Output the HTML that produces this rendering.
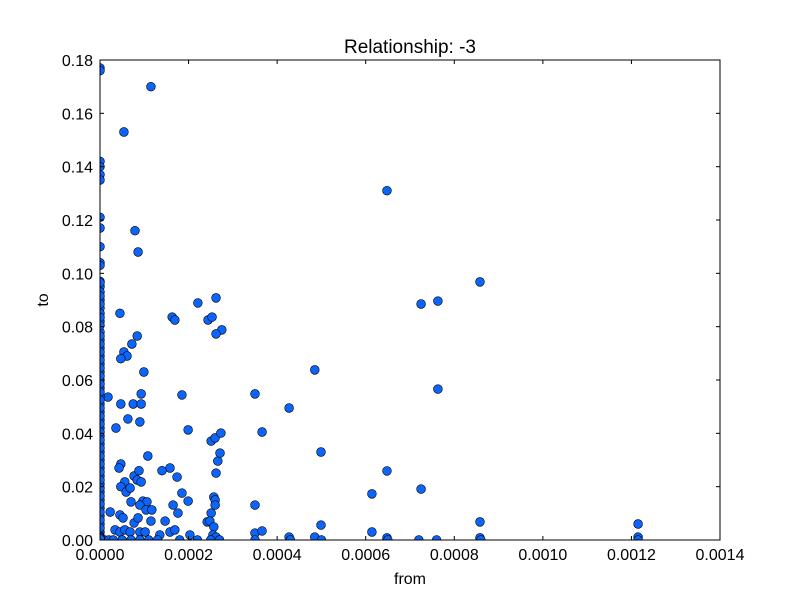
<!DOCTYPE html>
<html><head><meta charset="utf-8"><style>
body{margin:0;background:#fff;}
svg text{font-family:"Liberation Sans",sans-serif;fill:#000;}
</style></head><body>
<svg id="chart" width="800" height="600" xmlns="http://www.w3.org/2000/svg">
<rect width="800" height="600" fill="#fff"/>
<defs><clipPath id="pc"><rect x="100" y="60" width="620" height="480"/></clipPath></defs>
<text x="410" y="53" font-size="19" text-anchor="middle">Relationship: -3</text>
<text x="410" y="584" font-size="16" text-anchor="middle">from</text>
<text x="48" y="300" font-size="16" text-anchor="middle" transform="rotate(-90 48 300)">to</text>
<g id="marks" clip-path="url(#pc)"></g>
<g id="axes"></g>
</svg>
<script>
const xTicks=[0,0.0002,0.0004,0.0006,0.0008,0.0010,0.0012,0.0014];
const xTickLabels=["0.0000","0.0002","0.0004","0.0006","0.0008","0.0010","0.0012","0.0014"];
const yTicks=[0,0.02,0.04,0.06,0.08,0.10,0.12,0.14,0.16,0.18];
const yTickLabels=["0.00","0.02","0.04","0.06","0.08","0.10","0.12","0.14","0.16","0.18"];
const fromVals=[1.15e-4,0.54e-4,0.79e-4,0.86e-4,0.45e-4,0.84e-4,0.72e-4,0.54e-4,0.61e-4,0.47e-4,0.99e-4,0.47e-4,0.75e-4,0.93e-4,0.93e-4,0.18e-4,0.63e-4,0.90e-4,0.36e-4,1.08e-4,0.47e-4,0.43e-4,0.77e-4,0.88e-4,0.84e-4,0.93e-4,0.56e-4,0.47e-4,0.59e-4,0.68e-4,0.70e-4,0.97e-4,1.06e-4,0.90e-4,1.04e-4,1.17e-4,0.45e-4,0.52e-4,0.77e-4,0.86e-4,1.15e-4,0.23e-4,0.34e-4,0.45e-4,0.56e-4,0.68e-4,0.90e-4,1.02e-4,1.63e-4,1.69e-4,2.21e-4,2.62e-4,2.44e-4,2.53e-4,2.75e-4,2.62e-4,1.85e-4,1.99e-4,2.51e-4,2.60e-4,2.73e-4,2.66e-4,2.62e-4,2.71e-4,1.58e-4,1.74e-4,1.40e-4,1.85e-4,1.99e-4,1.65e-4,1.76e-4,2.57e-4,2.60e-4,2.60e-4,2.51e-4,1.47e-4,1.58e-4,2.42e-4,2.48e-4,2.57e-4,2.55e-4,2.62e-4,1.35e-4,1.69e-4,2.03e-4,3.50e-4,3.66e-4,3.50e-4,3.50e-4,3.66e-4,4.27e-4,4.27e-4,4.85e-4,4.99e-4,4.99e-4,4.85e-4,6.14e-4,6.14e-4,6.48e-4,6.48e-4,6.48e-4,7.25e-4,7.25e-4,7.63e-4,7.63e-4,8.58e-4,8.58e-4,8.58e-4,12.15e-4,12.15e-4,
0.1e-4,0.2e-4,0.3e-4,0.5e-4,0.7e-4,0.9e-4,1.1e-4,1.3e-4,1.8e-4,2.2e-4,2.5e-4,2.7e-4,3.5e-4,4.3e-4,5.0e-4,6.5e-4,7.2e-4,7.6e-4,8.6e-4,12.15e-4,
0,0,0,0,0,0,0,0,0,0,0,0,0,0,0,0,0,0,0,0,0,0,0,0,0,0,0,0,0,0,0,0,0,0,0,0,0,0,0,0,0,0,0,0,0,
0,0,0,0,0,0,0,0,0,0,0,0,0,0,0,0,0,0,0,0,0,0,0,0,0,0,0,0,0,0,0,0,0,0];
const toVals=[0.170,0.153,0.116,0.108,0.085,0.0765,0.0735,0.0705,0.069,0.068,0.063,0.051,0.051,0.051,0.0548,0.0536,0.0454,0.0443,0.042,0.0315,0.0285,0.027,0.024,0.026,0.0225,0.0218,0.0218,0.020,0.018,0.0195,0.0143,0.0146,0.0143,0.0131,0.0113,0.0113,0.0094,0.0083,0.0064,0.0083,0.0071,0.0105,0.0038,0.003,0.0038,0.003,0.003,0.003,0.0836,0.0825,0.0889,0.0908,0.0825,0.0836,0.0788,0.0773,0.0544,0.0413,0.0371,0.0383,0.0401,0.0296,0.0251,0.0326,0.027,0.0236,0.026,0.0176,0.0146,0.0131,0.0101,0.0161,0.015,0.0131,0.0101,0.0071,0.003,0.0068,0.0071,0.0049,0.0019,0.0011,0.0019,0.0038,0.0019,0.0548,0.0405,0.0131,0.0026,0.0034,0.0495,0.0011,0.0638,0.033,0.0056,0.0011,0.0173,0.003,0.131,0.0259,0.0008,0.0885,0.0191,0.0896,0.0566,0.0968,0.0068,0.0008,0.006,0.0011,
0,0,0,0,0,0,0,0,0,0,0,0,0,0,0,0,0,0,0,0,
0.177,0.176,0.142,0.140,0.137,0.135,0.121,0.117,0.110,0.104,0.103,0.097,0.095,0.093,0.090,0.087,0.085,0.082,0.078,0.075,0.072,0.069,0.066,0.063,0.060,0.057,0.054,0.051,0.048,0.045,0.042,0.039,0.036,0.033,0.030,0.027,0.024,0.021,0.018,0.015,0.012,0.009,0.006,0.003,0,
0.0965,0.0915,0.0885,0.0835,0.0805,0.0765,0.0735,0.0705,0.0675,0.0645,0.0615,0.0585,0.0555,0.0525,0.0495,0.0465,0.0435,0.0405,0.0375,0.0345,0.0315,0.0285,0.0255,0.0225,0.0195,0.0165,0.0135,0.0105,0.0075,0.0045,0.0015,0.0012,0.0008,0.0004];
const NS="http://www.w3.org/2000/svg";
const X0=100,X1=720,Y0=540,Y1=60,XMAX=0.0014,YMAX=0.18;
const sx=v=>X0+v/XMAX*(X1-X0);
const sy=v=>Y0-v/YMAX*(Y0-Y1);
const marks=document.getElementById('marks');
for(let i=0;i<fromVals.length;i++){
  const c=document.createElementNS(NS,'circle');
  c.setAttribute('cx',sx(fromVals[i]));c.setAttribute('cy',sy(toVals[i]));
  c.setAttribute('r',4.4);c.setAttribute('fill','#0b65fa');c.setAttribute('stroke','#000');c.setAttribute('stroke-width','0.6');
  
  
  marks.appendChild(c);
}
const axes=document.getElementById('axes');
function el(tag,attrs,txt){const e=document.createElementNS(NS,tag);for(const k in attrs)e.setAttribute(k,attrs[k]);if(txt!==undefined)e.textContent=txt;axes.appendChild(e);return e;}
const frame=el('rect',{x:X0,y:Y1,width:X1-X0,height:Y0-Y1,fill:'none',stroke:'#000','stroke-width':1});


xTicks.forEach((t,i)=>{
  const x=sx(t);
  el('line',{x1:x,y1:Y0,x2:x,y2:Y0-4,stroke:'#000'});
  el('line',{x1:x,y1:Y1,x2:x,y2:Y1+4,stroke:'#000'});
  const tx=el('text',{x:x,y:Y0+20,'font-size':16,'text-anchor':'middle'},xTickLabels[i]);
  
  
});
yTicks.forEach((t,i)=>{
  const y=sy(t);
  el('line',{x1:X0,y1:y,x2:X0+4,y2:y,stroke:'#000'});
  el('line',{x1:X1,y1:y,x2:X1-4,y2:y,stroke:'#000'});
  const tx=el('text',{x:X0-7,y:y+6,'font-size':16,'text-anchor':'end'},yTickLabels[i]);
  
  
});
</script>
</body></html>
